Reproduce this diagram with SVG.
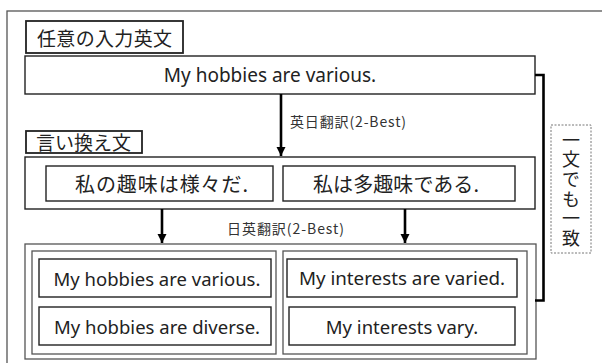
<svg xmlns="http://www.w3.org/2000/svg" width="602" height="363" viewBox="0 0 602 363">
<defs>
<style>
.frame{fill:#fff;stroke:#555;stroke-width:1.3}
.box{fill:#fff;stroke:#222;stroke-width:1.4}
.lbl{fill:#fff;stroke:#222;stroke-width:1.8}
.t{font-family:"Noto Sans","Noto Sans CJK JP",sans-serif;fill:#222;text-anchor:middle;dominant-baseline:central}
.j{font-family:"Noto Sans CJK JP",sans-serif;fill:#222;dominant-baseline:central}
.small{font-family:"Noto Sans CJK JP",sans-serif;fill:#333;font-size:14px;dominant-baseline:central}
.con{stroke:#000;stroke-width:2.6;fill:none}
</style>
<marker id="ah" viewBox="0 0 10 10" refX="10" refY="5" markerWidth="3.6" markerHeight="3.6" orient="auto" markerUnits="strokeWidth">
<path d="M0,0 L10,5 L0,10 z" fill="#000"/>
</marker>
</defs>
<rect x="0" y="0" width="602" height="363" fill="#fff"/>
<rect class="frame" x="7" y="11" width="620" height="380"/>

<g id="input-label">
<rect class="lbl" x="26" y="21" width="157" height="32"/>
<text class="j" x="37" y="37" font-size="19" textLength="135">任意の入力英文</text>
</g>
<g id="input">
<rect class="box" x="25" y="56" width="510" height="38"/>
<text class="t" x="270" y="75" font-size="19">My hobbies are various.</text>
</g>

<g id="para-label">
<rect class="lbl" x="26" y="131" width="116" height="22"/>
<text class="j" x="36" y="141" font-size="19">言い換え文</text>
</g>
<g id="para">
<rect class="box" x="25" y="157" width="510" height="52"/>
</g>
<g id="para1">
<rect class="box" x="46" y="166" width="227" height="35"/>
<text class="j" x="75" y="183" font-size="20" textLength="173">私の趣味は様々だ.</text>
</g>
<g id="para2">
<rect class="box" x="283" y="166" width="232" height="35"/>
<text class="j" x="313" y="183" font-size="20" textLength="166">私は多趣味である.</text>
</g>

<g id="back">
<rect class="frame" x="25" y="244" width="511" height="115"/>
</g>
<g id="back-left">
<rect class="frame" x="32" y="251" width="244" height="103"/>
</g>
<g id="back-right">
<rect class="frame" x="283" y="251" width="244" height="103"/>
</g>
<g id="b1">
<rect class="box" x="39" y="259" width="232" height="38"/>
<text class="t" x="157" y="278" font-size="18.5">My hobbies are various.</text>
</g>
<g id="b2">
<rect class="box" x="39" y="307" width="232" height="38"/>
<text class="t" x="157" y="326" font-size="18.5">My hobbies are diverse.</text>
</g>
<g id="b3">
<rect class="box" x="287" y="259" width="230" height="38"/>
<text class="t" x="402" y="278" font-size="18.8">My interests are varied.</text>
</g>
<g id="b4">
<rect class="box" x="289" y="307" width="226" height="38"/>
<text class="t" x="402" y="326" font-size="18.5">My interests vary.</text>
</g>

<g id="match">
<rect x="551" y="125" width="40" height="128" fill="#fff" stroke="#777" stroke-width="1" stroke-dasharray="2,1.5"/>
<text x="571" y="131" font-family="Noto Sans CJK JP,sans-serif" font-size="18" fill="#222" writing-mode="vertical-rl" letter-spacing="1.6">一文でも一致</text>
</g>

<g id="connectors">
<line class="con" x1="281" y1="94" x2="281" y2="156" marker-end="url(#ah)"/>
<line class="con" x1="162" y1="209" x2="162" y2="243" marker-end="url(#ah)"/>
<line class="con" x1="405" y1="209" x2="405" y2="243" marker-end="url(#ah)"/>
<polyline class="con" points="535,75 543.5,75 543.5,300.5 535,300.5"/>
<text class="small" x="290" y="121" textLength="116">英日翻訳(2-Best)</text>
<text class="small" x="227" y="228" textLength="117">日英翻訳(2-Best)</text>
</g>
</svg>
